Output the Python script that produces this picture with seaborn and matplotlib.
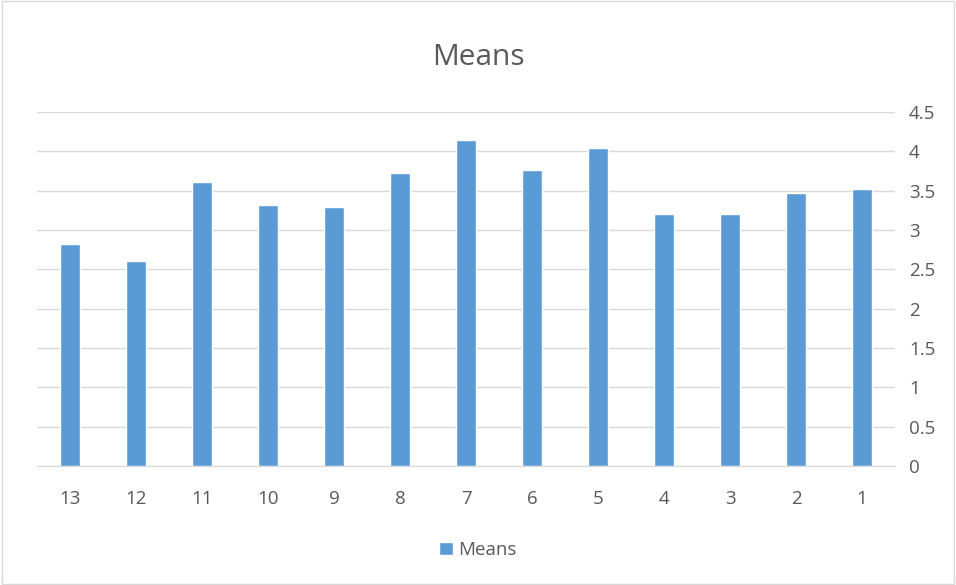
import pandas as pd
import seaborn as sns
import matplotlib.pyplot as plt
from matplotlib.patches import Patch, Rectangle

sns.set_style("white")
plt.rcParams['font.family'] = ['Open Sans', 'DejaVu Sans']

labels = ["13", "12", "11", "10", "9", "8", "7", "6", "5", "4", "3", "2", "1"]
means = [2.82, 2.60, 3.61, 3.32, 3.29, 3.73, 4.15, 3.76, 4.04, 3.21, 3.21, 3.47, 3.52]

df = pd.DataFrame({"item": labels, "Means": means})

bar_col = "#5B9BD5"
txt_col = "#595959"
grid_col = "#D9D9D9"

fig = plt.figure(figsize=(9.56, 5.85), dpi=100)
ax = fig.add_axes([0.0387, 0.2034, 0.8975, 0.6051])

sns.barplot(data=df, x="item", y="Means", order=labels, color=bar_col,
            width=0.3, saturation=1, ax=ax)

ax.set_ylim(0, 4.5)
ax.set_xlim(-0.5, len(labels) - 0.5)
ax.set_yticks([0, 0.5, 1, 1.5, 2, 2.5, 3, 3.5, 4, 4.5])
ax.set_yticklabels(["0", "0.5", "1", "1.5", "2", "2.5", "3", "3.5", "4", "4.5"])
ax.yaxis.tick_right()
ax.tick_params(axis="both", length=0, colors=txt_col, labelsize=13.5)
ax.tick_params(axis="y", pad=10)
ax.tick_params(axis="x", pad=17)
ax.set_xlabel("")
ax.set_ylabel("")
ax.grid(axis="y", color=grid_col, linewidth=1)
ax.set_axisbelow(True)
for s in ["top", "left", "right"]:
    ax.spines[s].set_visible(False)
ax.spines["bottom"].set_color(grid_col)

fig.text(0.5, 0.902, "Means", ha="center", va="center", fontsize=21.5, color=txt_col)

fig.legend(handles=[Patch(facecolor=bar_col, label="Means")], loc="center",
           bbox_to_anchor=(0.5, 0.06), frameon=False, fontsize=13.5,
           handlelength=0.7, handleheight=0.7, handletextpad=0.3, labelcolor=txt_col)

fig.patches.append(Rectangle((0.002, 0.002), 0.996, 0.996, transform=fig.transFigure,
                             fill=False, edgecolor=grid_col, linewidth=1))

fig.savefig("out.png", dpi=100)
